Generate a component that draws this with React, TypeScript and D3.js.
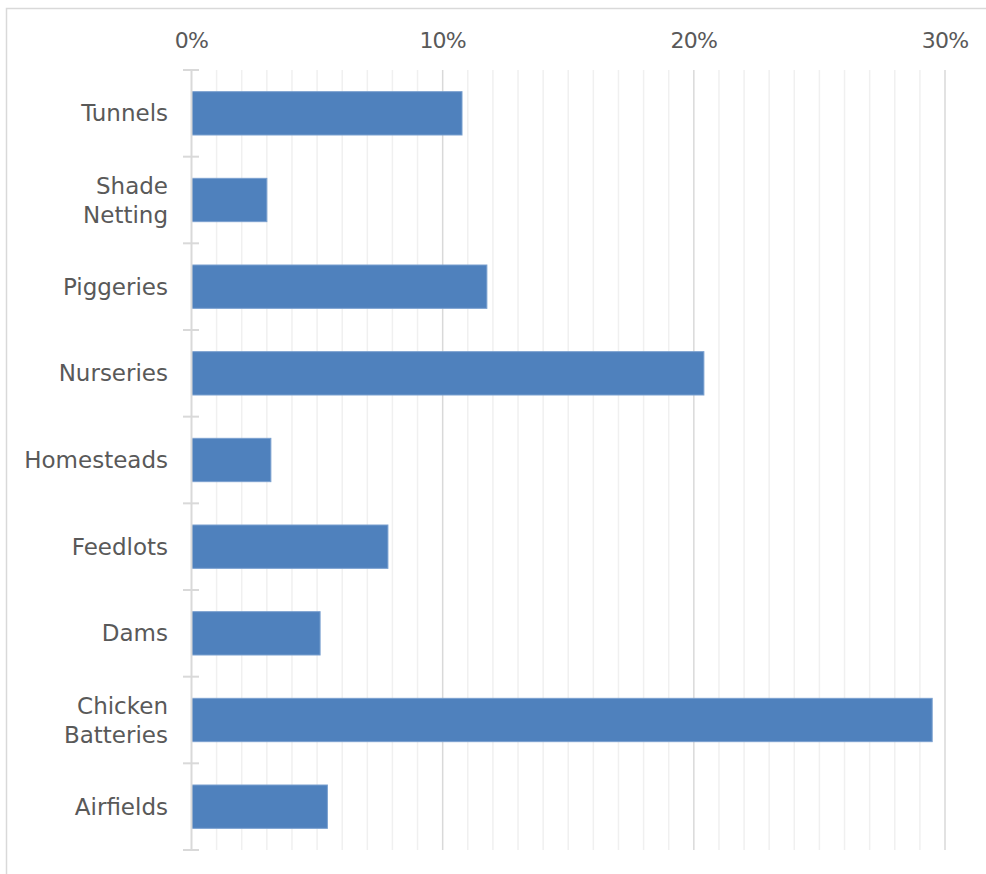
import React from "react";
import * as d3 from "d3";

const categories = [
  "Tunnels",
  "Shade Netting",
  "Piggeries",
  "Nurseries",
  "Homesteads",
  "Feedlots",
  "Dams",
  "Chicken Batteries",
  "Airfields",
];
const values = [10.77, 3.0, 11.76, 20.4, 3.16, 7.82, 5.12, 29.49, 5.41];
const labelLines: Record<string, string[]> = {
  "Shade Netting": ["Shade", "Netting"],
  "Chicken Batteries": ["Chicken", "Batteries"],
};
const majorTicks = [0, 10, 20, 30];
const minorTicks = d3.range(0, 31, 1);

const W = 986;
const H = 874;
const left = 191.5;
const right = 945;
const top = 70;
const bottom = 850;
const FONT = "'DejaVu Sans', sans-serif";
const TEXT = "#595959";

export default function App() {
  const x = d3.scaleLinear().domain([0, 30]).range([left, right]);
  const y = d3
    .scaleBand<string>()
    .domain(categories)
    .range([top, bottom])
    .paddingInner(0.5)
    .paddingOuter(0.25);
  const bandStep = (bottom - top) / categories.length;
  const boundaries = d3.range(0, categories.length + 1).map((i) => top + i * bandStep);

  return (
    <svg
      width={W}
      height={H}
      style={{ position: "absolute", left: 0, top: 0, background: "#fff" }}
    >
      <rect x={6.5} y={8.5} width={1000} height={900} fill="#fff" stroke="#d9d9d9" strokeWidth={1.5} />
      {minorTicks
        .filter((t) => t % 10 !== 0)
        .map((t) => (
          <line
            key={"m" + t}
            x1={x(t)}
            x2={x(t)}
            y1={top}
            y2={bottom}
            stroke="#f0f0f0"
            strokeWidth={1.5}
          />
        ))}
      {majorTicks
        .filter((t) => t !== 0)
        .map((t) => (
          <line
            key={"M" + t}
            x1={x(t)}
            x2={x(t)}
            y1={top}
            y2={bottom}
            stroke="#d9d9d9"
            strokeWidth={1.5}
          />
        ))}
      {categories.map((c, i) => (
        <rect
          key={c}
          x={x(0)}
          y={y(c)!}
          width={x(values[i]) - x(0)}
          height={y.bandwidth()}
          fill="#4f81bd"
          stroke="#7aa0cf"
          strokeWidth={1}
        />
      ))}
      <line x1={left} x2={left} y1={top} y2={bottom} stroke="#d9d9d9" strokeWidth={2} />
      {boundaries.map((b, i) => (
        <line key={"t" + i} x1={183} x2={199} y1={b} y2={b} stroke="#d9d9d9" strokeWidth={2} />
      ))}
      {majorTicks.map((t) => (
        <text
          key={"l" + t}
          x={x(t)}
          y={48}
          textAnchor="middle"
          fontFamily={FONT}
          fontSize={22}
          letterSpacing={-0.8}
          fill={TEXT}
        >
          {t}%
        </text>
      ))}
      {categories.map((c) => {
        const lines = labelLines[c] || [c];
        const cy = y(c)! + y.bandwidth() / 2;
        const lh = 29;
        return (
          <text
            key={"c" + c}
            x={168}
            textAnchor="end"
            fontFamily={FONT}
            fontSize={23}
            fill={TEXT}
          >
            {lines.map((ln, j) => (
              <tspan key={j} x={168} y={cy + 8 + (j - (lines.length - 1) / 2) * lh}>
                {ln}
              </tspan>
            ))}
          </text>
        );
      })}
    </svg>
  );
}
